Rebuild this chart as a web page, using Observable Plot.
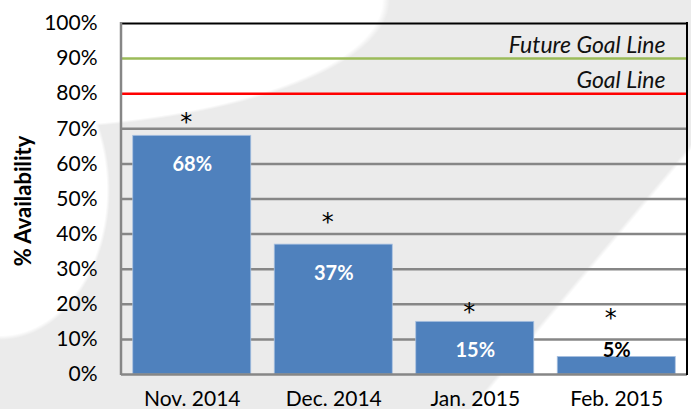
<!DOCTYPE html>
<html>
<head>
<meta charset="utf-8">
<script src="https://cdn.jsdelivr.net/npm/d3@7"></script>
<script src="https://cdn.jsdelivr.net/npm/@observablehq/plot@0.6"></script>
<style>
  html, body { margin: 0; padding: 0; }
  body {
    width: 691px; height: 409px; overflow: hidden;
    background-color: #EBEBEB;
    background-image:
      radial-gradient(ellipse 390px 130px at 0 0, #ffffff 98%, rgba(255,255,255,0) 100%),
      radial-gradient(ellipse 110px 150px at 0 190px, #ffffff 97%, rgba(255,255,255,0) 100%),
      linear-gradient(130deg, rgba(255,255,255,0) 78.5%, #ffffff 79%);
  }
  #chart svg { display: block; background: transparent; }
</style>
</head>
<body>
<div id="chart"></div>
<script>
const months = ["Nov. 2014", "Dec. 2014", "Jan. 2015", "Feb. 2015"];
const availability = [0.68, 0.37, 0.15, 0.05];
const asteriskLevels = [0.73, 0.445, 0.188, 0.172];
const yTicks = [0, 0.1, 0.2, 0.3, 0.4, 0.5, 0.6, 0.7, 0.8, 0.9, 1.0];
const gridLevels = [0.1, 0.2, 0.3, 0.4, 0.5, 0.6, 0.7];
const goalValues = [0.8, 0.9];
const goalLabels = ["Goal Line", "Future Goal Line"];
const goalColors = ["#FF0000", "#9BBB59"];

const bars = months.map((m, i) => ({month: m, value: availability[i], star: asteriskLevels[i]}));
const goals = goalValues.map((v, i) => ({value: v, label: goalLabels[i], color: goalColors[i]}));

const font = "Lato, 'Open Sans', sans-serif";

const sideLines = () => {
  return (index, scales, values, dims) => {
    const g = d3.create("svg:g");
    const x0 = dims.marginLeft, x1 = dims.width - dims.marginRight;
    const y0 = dims.marginTop, y1 = dims.height - dims.marginBottom;
    g.append("line").attr("x1", x0).attr("x2", x0).attr("y1", y0 - 1).attr("y2", y1 + 1)
      .attr("stroke", "#868686").attr("stroke-width", 2.5);
    g.append("line").attr("x1", x1).attr("x2", x1).attr("y1", y0 - 1).attr("y2", y1 + 1)
      .attr("stroke", "#000000").attr("stroke-width", 2);
    return g.node();
  };
};

const chart = Plot.plot({
  width: 691,
  height: 409,
  marginLeft: 121,
  marginRight: 4,
  marginTop: 23,
  marginBottom: 35,
  style: {fontFamily: font, fontSize: "21px", background: "transparent", color: "#000"},
  x: {domain: months, paddingInner: 0.166, paddingOuter: 0.083, round: false, label: null, tickSize: 0, tickPadding: 17},
  y: {domain: [0, 1], ticks: yTicks, tickFormat: d3.format(".0%"), label: null, tickSize: 0, tickPadding: 24},
  marks: [
    Plot.ruleY(gridLevels, {stroke: "#868686", strokeWidth: 2.5}),
    Plot.barY(bars, {x: "month", y: "value", fill: "#4F81BD", stroke: "#A9C1E0", strokeWidth: 0.8}),
    Plot.ruleY(goals, {y: "value", stroke: "color", strokeWidth: 2.5}),
    Plot.ruleY([1], {stroke: "#000", strokeWidth: 2}),
    Plot.ruleY([0], {stroke: "#868686", strokeWidth: 2.5}),
    sideLines(),
    Plot.text(goals, {y: "value", text: "label", frameAnchor: "right", textAnchor: "end",
      dx: -22, dy: -13, fontStyle: "italic", fontSize: 23, fill: "#111"}),
    Plot.text(bars.filter(d => d.value >= 0.1), {x: "month", y: "value", text: d => d3.format(".0%")(d.value),
      dy: 29, fill: "#fff", fontWeight: "bold", fontSize: 20}),
    Plot.text(bars.filter(d => d.value < 0.1), {x: "month", y: "value", text: d => d3.format(".0%")(d.value),
      dy: -6, fill: "#000", fontWeight: "bold", fontSize: 20}),
    Plot.text(bars, {x: "month", y: "star", text: () => "*", dx: -6, dy: 4, fontSize: 24,
      fontFamily: "DejaVu Sans", fill: "#000"}),
    Plot.text(["% Availability"], {frameAnchor: "left", textAnchor: "middle", rotate: -90, dx: -98, dy: 2,
      fontWeight: "bold", fontSize: 22, fill: "#000"})
  ]
});
document.getElementById("chart").appendChild(chart);
</script>
</body>
</html>
